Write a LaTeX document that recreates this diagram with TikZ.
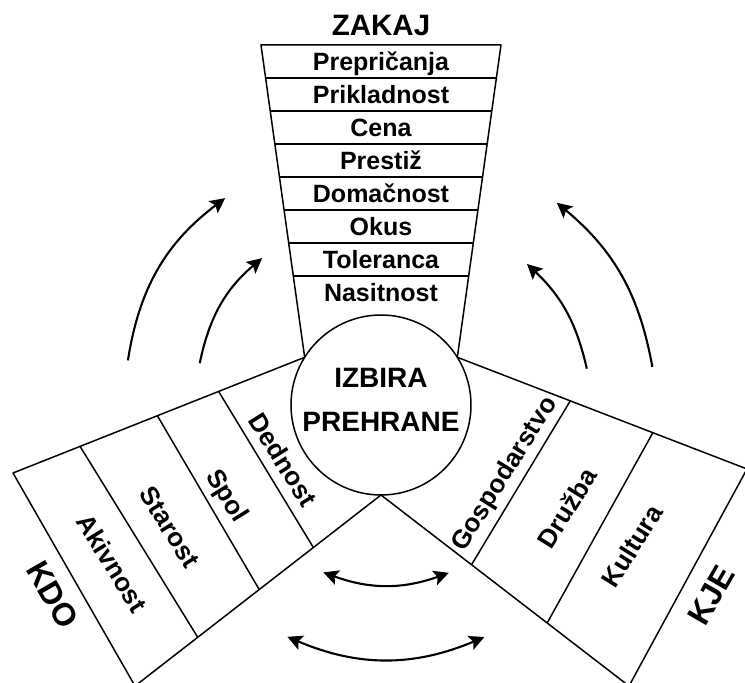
\documentclass[tikz,border=0pt]{standalone}
\usepackage{fontspec}
\setmainfont{Liberation Sans}
\usetikzlibrary{calc,arrows.meta}

\begin{document}
\begin{tikzpicture}[x=1pt, y=1pt, line width=1.5pt, line join=round,
    row/.style={font=\bfseries\fontsize{25}{30}\selectfont, text height=18pt, text depth=0pt, inner sep=0pt},
    side/.style={font=\bfseries\fontsize{26}{31}\selectfont, text height=18.5pt, text depth=0pt, inner sep=0pt},
    head/.style={font=\bfseries\fontsize{32}{38}\selectfont, text height=23pt, text depth=0pt, inner sep=0pt},
    arr/.style={-{Stealth[length=15pt, width=15pt, inset=3pt]}, line width=2.1pt},
    darr/.style={{Stealth[length=15pt, width=15pt, inset=3pt]}-{Stealth[length=15pt, width=15pt, inset=3pt]}, line width=2.1pt}]
    \useasboundingbox (-381,-278) rectangle (364,405);
    \clip (-381,-278) rectangle (364,405);

    % Centre circle
    \node[circle, draw, minimum size=180pt, inner sep=0pt] (izbira) at (0,0) {};
    \node[font=\bfseries\fontsize{28}{44}\selectfont, align=center, inner sep=0pt] (izbiratxt) at (0,5) {IZBIRA\\PREHRANE};

    % Funnel on top (ZAKAJ)
    \coordinate (ztl) at (-120,360);
    \coordinate (ztr) at (120,360);
    \coordinate (zbl) at (148:90);
    \coordinate (zbr) at (32:90);
    \draw (zbl) -- (ztl) -- (ztr) -- (zbr);
    \foreach \k in {1,...,7}
        \draw ($(ztl)!\k*0.10567!(zbl)$) -- ($(ztr)!\k*0.10567!(zbr)$);
    \node[font=\bfseries\fontsize{29.5}{35}\selectfont, text height=21pt, text depth=0pt, inner sep=0pt] (zakaj) at (0,380) {ZAKAJ};
    \foreach \w [count=\k from 0] in {Prepričanja, Prikladnost, Cena, Prestiž, Domačnost, Okus, Toleranca, Nasitnost}
        \node[row] (why\k) at (0,{343.5-33*\k}) {\w};

    % Left box (KDO)
    \coordinate (vbot) at (270:90);
    \coordinate (kdoB) at (-368,-68);
    \coordinate (kdoC) at (-246,-281);
    \draw (zbl) -- (kdoB) -- (kdoC) -- (vbot);
    \foreach \s/\t in {0.295/0.275, 0.505/0.495, 0.77/0.745}
        \draw ($(zbl)!\s!(kdoB)$) -- ($(vbot)!\t!(kdoC)$);
    \node[side, rotate=-58] (dednost) at (-98,-55) {Dednost};
    \node[side, rotate=-58] (spol) at (-153,-90) {Spol};
    \node[side, rotate=-58] (starost) at (-211,-122) {Starost};
    \node[side, rotate=-58] (akivnost) at (-269,-158) {Akivnost};
    \node[head, rotate=-60] (kdo) at (-328,-190) {KDO};

    % Right box (KJE)
    \coordinate (kjeB) at (366,-64);
    \coordinate (kjeC) at (248,-281);
    \draw (zbr) -- (kjeB) -- (kjeC) -- (vbot);
    \foreach \s/\t in {0.39/0.365, 0.675/0.67}
        \draw ($(zbr)!\s!(kjeB)$) -- ($(vbot)!\t!(kjeC)$);
    \node[side, rotate=58] (gosp) at (122,-68) {Gospodarstvo};
    \node[side, rotate=58] (druzba) at (186,-103) {Družba};
    \node[side, rotate=58] (kultura) at (251,-141) {Kultura};
    \node[head, rotate=60] (kje) at (330,-190) {KJE};

    % Arrows round the circle
    \coordinate (lo1) at (170:257);  \coordinate (lo2) at (127:259);
    \coordinate (li1) at (167:186);  \coordinate (li2) at (129:189);
    \coordinate (ro1) at (8:274);    \coordinate (ro2) at (49:268);
    \coordinate (ri1) at (10:209);   \coordinate (ri2) at (44:203);
    \coordinate (bu1) at (-109:177); \coordinate (bu2) at (-68:181);
    \coordinate (bl1) at (-112:250); \coordinate (bl2) at (-66:254);
    \draw[arr] (lo1) to[bend left=22] (lo2);
    \draw[arr] (li1) to[bend left=19] (li2);
    \draw[arr] (ro1) to[bend right=20] (ro2);
    \draw[arr] (ri1) to[bend right=17] (ri2);
    \draw[darr] (bu1) to[bend right=20] (bu2);
    \draw[darr] (bl1) to[bend right=23] (bl2);
\end{tikzpicture}
\end{document}
